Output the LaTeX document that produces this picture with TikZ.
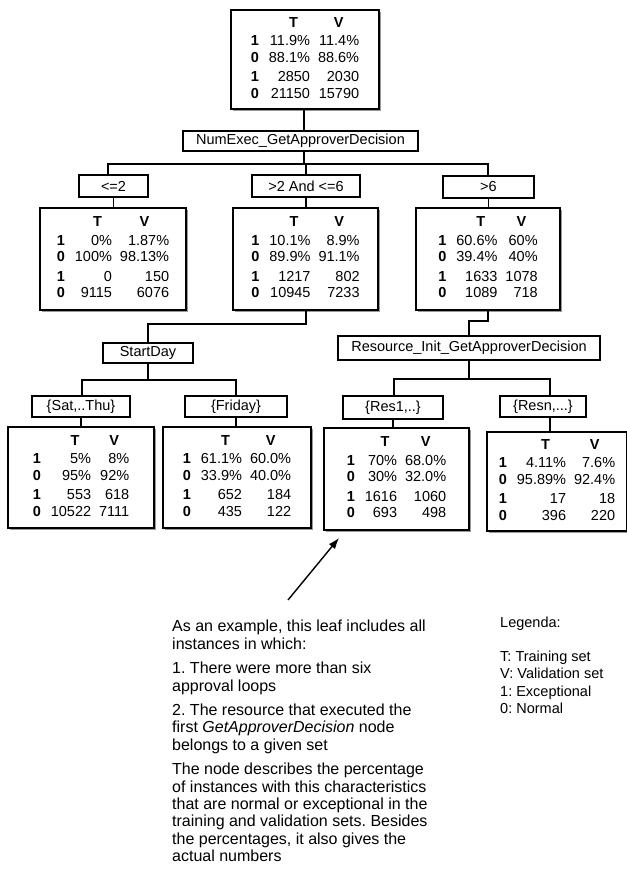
\documentclass[tikz,border=0pt]{standalone}
\usepackage{fontspec}
\setmainfont{Liberation Sans}
\usepackage{array}
\usetikzlibrary{shadows,arrows.meta}
\frenchspacing

\newcommand\leaftab[8]{%
\begin{tabular}{@{}>{\bfseries}c@{\hspace{10pt}}r@{\hspace{8pt}}r@{}}
 & \multicolumn{1}{c}{\textbf{T}} & \multicolumn{1}{c}{\textbf{V}}\\[2pt]
1 & #1 & #2\\
0 & #3 & #4\\[3pt]
1 & #5 & #6\\
0 & #7 & #8
\end{tabular}}

\begin{document}
\begin{tikzpicture}[x=1pt,y=-1pt,
  treefont/.style={font=\fontsize{14.5}{16.5}\selectfont},
  leafbox/.style={draw, line width=1.8pt, fill=white, inner sep=0pt, treefont,
    drop shadow={shadow xshift=2pt, shadow yshift=-2pt, fill=black!40, opacity=1}},
  testbox/.style={draw, line width=1.8pt, fill=white, inner sep=0pt, treefont},
  link/.style={line width=1.8pt}]
\useasboundingbox (0,0) rectangle (626,888);

% root and first test
\node[leafbox, minimum width=148pt, minimum height=99pt] (root) at (305,59.5)
  {\leaftab{11.9\%}{11.4\%}{88.1\%}{88.6\%}{2850}{2030}{21150}{15790}};
\node[testbox, minimum width=235pt, minimum height=20pt] (numexec) at (300.5,141) {NumExec\_GetApproverDecision};

\node[testbox, minimum width=69pt, minimum height=22pt] (le2) at (113.5,186) {<=2};
\node[testbox, minimum width=108pt, minimum height=22pt] (mid) at (306,186) {>2 And <=6};
\node[testbox, minimum width=91pt, minimum height=22pt] (gt6) at (488.5,187) {>6};

\node[leafbox, minimum width=146pt, minimum height=102pt] (leafA) at (113,259)
  {\leaftab{0\%}{1.87\%}{100\%}{98.13\%}{0}{150}{9115}{6076}};
\node[leafbox, minimum width=145pt, minimum height=102pt] (leafB) at (305.5,259)
  {\leaftab{10.1\%}{8.9\%}{89.9\%}{91.1\%}{1217}{802}{10945}{7233}};
\node[leafbox, minimum width=144pt, minimum height=102pt] (leafC) at (488,259)
  {\leaftab{60.6\%}{60\%}{39.4\%}{40\%}{1633}{1078}{1089}{718}};

% second level tests
\node[testbox, minimum width=90pt, minimum height=20pt] (startday) at (148,353) {StartDay};
\node[testbox, minimum width=262pt, minimum height=24pt] (resource) at (469,348) {Resource\_Init\_GetApproverDecision};

\node[testbox, minimum width=98pt, minimum height=21pt] (sat) at (81,406.5) {\{Sat,..Thu\}};
\node[testbox, minimum width=102pt, minimum height=21pt] (fri) at (236,406.5) {\{Friday\}};
\node[testbox, minimum width=100pt, minimum height=23pt] (res1) at (393,407.5) {\{Res1,..\}};
\node[testbox, minimum width=86pt, minimum height=21pt] (resn) at (543,406.5) {\{Resn,...\}};

\node[leafbox, minimum width=146pt, minimum height=101pt] (leafD) at (81,477.5)
  {\leaftab{5\%}{8\%}{95\%}{92\%}{553}{618}{10522}{7111}};
\node[leafbox, minimum width=148pt, minimum height=101pt] (leafE) at (237,477.5)
  {\leaftab{61.1\%}{60.0\%}{33.9\%}{40.0\%}{652}{184}{435}{122}};
\node[leafbox, minimum width=145pt, minimum height=102pt] (leafF) at (396.5,479)
  {\leaftab{70\%}{68.0\%}{30\%}{32.0\%}{1616}{1060}{693}{498}};
\node[leafbox, minimum width=140pt, minimum height=99pt] (leafG) at (557,481.5)
  {\leaftab{4.11\%}{7.6\%}{95.89\%}{92.4\%}{17}{18}{396}{220}};

% connectors, first level
\coordinate (bus1) at (304,164);
\coordinate (bus1L) at (108,164);
\coordinate (bus1R) at (488,164);
\draw[link] (root.south -| bus1) -- (numexec.north -| bus1);
\draw[link] (numexec.south -| bus1) -- (bus1);
\draw[link] (le2.north -| bus1L) -- (bus1L) -- (bus1R) -- (gt6.north -| bus1R);
\draw[link] (mid.north) -- (mid.north |- bus1);
\draw[link] (le2.south) -- (le2.south |- leafA.north);
\draw[link] (mid.south) -- (mid.south |- leafB.north);
\draw[link] (gt6.south) -- (gt6.south |- leafC.north);

% StartDay branch
\coordinate (bus2a) at (306,324);
\coordinate (bus2b) at (148,324);
\draw[link] (leafB.south -| bus2a) -- (bus2a) -- (bus2b) -- (startday.north);
\coordinate (bus3) at (148,380);
\coordinate (bus3L) at (82,380);
\coordinate (bus3R) at (236,380);
\draw[link] (startday.south) -- (bus3);
\draw[link] (sat.north -| bus3L) -- (bus3L) -- (bus3R) -- (fri.north -| bus3R);
\draw[link] (sat.south) -- (sat.south |- leafD.north);
\draw[link] (fri.south) -- (fri.south |- leafE.north);

% Resource branch
\coordinate (bus4a) at (488,321);
\coordinate (bus4b) at (469,321);
\draw[link] (leafC.south) -- (bus4a) -- (bus4b) -- (resource.north);
\coordinate (bus5) at (469,379);
\coordinate (bus5L) at (394,379);
\coordinate (bus5R) at (550,379);
\draw[link] (resource.south) -- (bus5);
\draw[link] (res1.north -| bus5L) -- (bus5L) -- (bus5R) -- (resn.north -| bus5R);
\draw[link] (res1.south) -- (res1.south |- leafF.north);
\draw[link] (resn.south -| bus5R) -- (leafG.north -| bus5R);

% annotation
\coordinate (arrowtail) at (288,600);
\coordinate (arrowtip) at (339,538);
\draw[-{Latex[length=11pt,width=8pt]}, line width=1.4pt] (arrowtail) -- (arrowtip);

\node[anchor=north west, inner sep=0pt, align=left, font=\fontsize{16}{17.4}\selectfont] (note) at (172,620)
 {As an example, this leaf includes all\\
  instances in which:\\[7pt]
  1. There were more than six\\
  approval loops\\[7pt]
  2. The resource that executed the\\
  first \textit{GetApproverDecision} node\\
  belongs to a given set\\[7pt]
  The node describes the percentage\\
  of instances with this characteristics\\
  that are normal or exceptional in the\\
  training and validation sets. Besides\\
  the percentages, it also gives the\\
  actual numbers};

\node[anchor=north west, inner sep=0pt, align=left, font=\fontsize{14.5}{17.2}\selectfont] (legend) at (500,616.5)
 {Legenda:\\[17.2pt]
  T: Training set\\
  V: Validation set\\
  1: Exceptional\\
  0: Normal};
\end{tikzpicture}
\end{document}
